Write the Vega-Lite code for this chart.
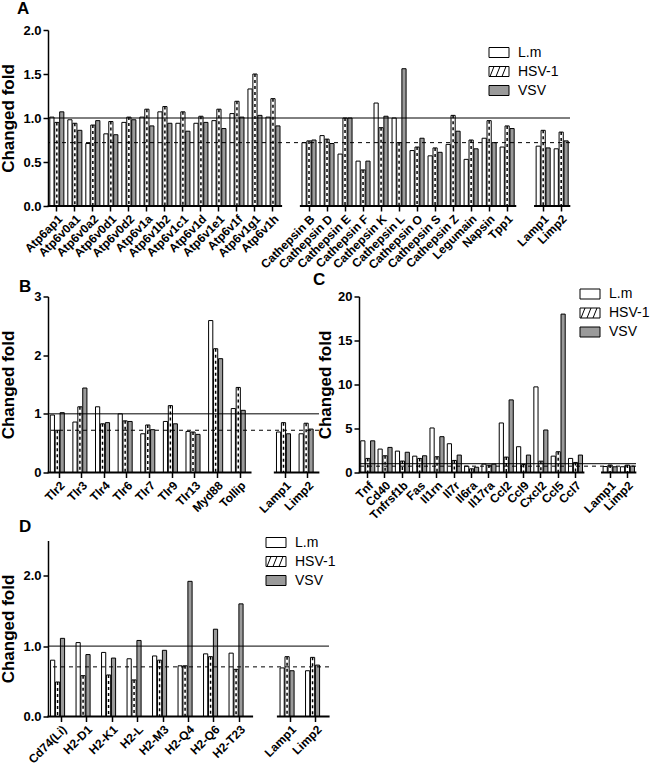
{
"$schema": "https://vega.github.io/schema/vega-lite/v6.json",
"padding": {"left": -1, "top": 0, "right": 0, "bottom": 0},
"datasets": {
"A": [
{"gene":"Atp6ap1","series":"L.m","value":1.01},{"gene":"Atp6ap1","series":"HSV-1","value":0.95},{"gene":"Atp6ap1","series":"VSV","value":1.07},
{"gene":"Atp6v0a1","series":"L.m","value":0.98},{"gene":"Atp6v0a1","series":"HSV-1","value":0.94},{"gene":"Atp6v0a1","series":"VSV","value":0.86},
{"gene":"Atp6v0a2","series":"L.m","value":0.71},{"gene":"Atp6v0a2","series":"HSV-1","value":0.92},{"gene":"Atp6v0a2","series":"VSV","value":0.97},
{"gene":"Atp6v0d1","series":"L.m","value":0.82},{"gene":"Atp6v0d1","series":"HSV-1","value":0.96},{"gene":"Atp6v0d1","series":"VSV","value":0.81},
{"gene":"Atp6v0d2","series":"L.m","value":0.95},{"gene":"Atp6v0d2","series":"HSV-1","value":1.01},{"gene":"Atp6v0d2","series":"VSV","value":0.98},
{"gene":"Atp6v1a","series":"L.m","value":1.01},{"gene":"Atp6v1a","series":"HSV-1","value":1.10},{"gene":"Atp6v1a","series":"VSV","value":0.91},
{"gene":"Atp6v1b2","series":"L.m","value":1.07},{"gene":"Atp6v1b2","series":"HSV-1","value":1.13},{"gene":"Atp6v1b2","series":"VSV","value":0.94},
{"gene":"Atp6v1c1","series":"L.m","value":0.94},{"gene":"Atp6v1c1","series":"HSV-1","value":1.07},{"gene":"Atp6v1c1","series":"VSV","value":0.85},
{"gene":"Atp6v1d","series":"L.m","value":0.94},{"gene":"Atp6v1d","series":"HSV-1","value":1.02},{"gene":"Atp6v1d","series":"VSV","value":0.95},
{"gene":"Atp6v1e1","series":"L.m","value":0.97},{"gene":"Atp6v1e1","series":"HSV-1","value":1.10},{"gene":"Atp6v1e1","series":"VSV","value":0.88},
{"gene":"Atp6v1f","series":"L.m","value":1.05},{"gene":"Atp6v1f","series":"HSV-1","value":1.19},{"gene":"Atp6v1f","series":"VSV","value":1.01},
{"gene":"Atp6v1g1","series":"L.m","value":1.33},{"gene":"Atp6v1g1","series":"HSV-1","value":1.50},{"gene":"Atp6v1g1","series":"VSV","value":1.03},
{"gene":"Atp6v1h","series":"L.m","value":1.01},{"gene":"Atp6v1h","series":"HSV-1","value":1.22},{"gene":"Atp6v1h","series":"VSV","value":0.91},
{"gene":"Cathepsin B","series":"L.m","value":0.72},{"gene":"Cathepsin B","series":"HSV-1","value":0.74},{"gene":"Cathepsin B","series":"VSV","value":0.75},
{"gene":"Cathepsin D","series":"L.m","value":0.80},{"gene":"Cathepsin D","series":"HSV-1","value":0.76},{"gene":"Cathepsin D","series":"VSV","value":0.71},
{"gene":"Cathepsin E","series":"L.m","value":0.59},{"gene":"Cathepsin E","series":"HSV-1","value":1.00},{"gene":"Cathepsin E","series":"VSV","value":1.00},
{"gene":"Cathepsin F","series":"L.m","value":0.51},{"gene":"Cathepsin F","series":"HSV-1","value":0.41},{"gene":"Cathepsin F","series":"VSV","value":0.51},
{"gene":"Cathepsin K","series":"L.m","value":1.17},{"gene":"Cathepsin K","series":"HSV-1","value":0.89},{"gene":"Cathepsin K","series":"VSV","value":1.02},
{"gene":"Cathepsin L","series":"L.m","value":1.00},{"gene":"Cathepsin L","series":"HSV-1","value":0.72},{"gene":"Cathepsin L","series":"VSV","value":1.56},
{"gene":"Cathepsin O","series":"L.m","value":0.63},{"gene":"Cathepsin O","series":"HSV-1","value":0.67},{"gene":"Cathepsin O","series":"VSV","value":0.77},
{"gene":"Cathepsin S","series":"L.m","value":0.57},{"gene":"Cathepsin S","series":"HSV-1","value":0.66},{"gene":"Cathepsin S","series":"VSV","value":0.61},
{"gene":"Cathepsin Z","series":"L.m","value":0.70},{"gene":"Cathepsin Z","series":"HSV-1","value":1.03},{"gene":"Cathepsin Z","series":"VSV","value":0.85},
{"gene":"Legumain","series":"L.m","value":0.53},{"gene":"Legumain","series":"HSV-1","value":0.75},{"gene":"Legumain","series":"VSV","value":0.65},
{"gene":"Napsin","series":"L.m","value":0.77},{"gene":"Napsin","series":"HSV-1","value":0.97},{"gene":"Napsin","series":"VSV","value":0.72},
{"gene":"Tpp1","series":"L.m","value":0.67},{"gene":"Tpp1","series":"HSV-1","value":0.91},{"gene":"Tpp1","series":"VSV","value":0.88},
{"gene":"Lamp1","series":"L.m","value":0.68},{"gene":"Lamp1","series":"HSV-1","value":0.86},{"gene":"Lamp1","series":"VSV","value":0.66},
{"gene":"Limp2","series":"L.m","value":0.65},{"gene":"Limp2","series":"HSV-1","value":0.84},{"gene":"Limp2","series":"VSV","value":0.74}
],
"B": [
{"gene":"Tlr2","series":"L.m","value":0.98},{"gene":"Tlr2","series":"HSV-1","value":0.72},{"gene":"Tlr2","series":"VSV","value":1.02},
{"gene":"Tlr3","series":"L.m","value":0.86},{"gene":"Tlr3","series":"HSV-1","value":1.12},{"gene":"Tlr3","series":"VSV","value":1.44},
{"gene":"Tlr4","series":"L.m","value":1.12},{"gene":"Tlr4","series":"HSV-1","value":0.83},{"gene":"Tlr4","series":"VSV","value":0.85},
{"gene":"Tlr6","series":"L.m","value":1.00},{"gene":"Tlr6","series":"HSV-1","value":0.88},{"gene":"Tlr6","series":"VSV","value":0.87},
{"gene":"Tlr7","series":"L.m","value":0.66},{"gene":"Tlr7","series":"HSV-1","value":0.81},{"gene":"Tlr7","series":"VSV","value":0.73},
{"gene":"Tlr9","series":"L.m","value":0.87},{"gene":"Tlr9","series":"HSV-1","value":1.14},{"gene":"Tlr9","series":"VSV","value":0.83},
{"gene":"Tlr13","series":"L.m","value":0.70},{"gene":"Tlr13","series":"HSV-1","value":0.69},{"gene":"Tlr13","series":"VSV","value":0.65},
{"gene":"Myd88","series":"L.m","value":2.59},{"gene":"Myd88","series":"HSV-1","value":2.11},{"gene":"Myd88","series":"VSV","value":1.94},
{"gene":"Tollip","series":"L.m","value":1.09},{"gene":"Tollip","series":"HSV-1","value":1.45},{"gene":"Tollip","series":"VSV","value":1.06},
{"gene":"Lamp1","series":"L.m","value":0.69},{"gene":"Lamp1","series":"HSV-1","value":0.85},{"gene":"Lamp1","series":"VSV","value":0.66},
{"gene":"Limp2","series":"L.m","value":0.66},{"gene":"Limp2","series":"HSV-1","value":0.84},{"gene":"Limp2","series":"VSV","value":0.74}
],
"C": [
{"gene":"Tnf","series":"L.m","value":3.6},{"gene":"Tnf","series":"HSV-1","value":1.6},{"gene":"Tnf","series":"VSV","value":3.6},
{"gene":"Cd40","series":"L.m","value":2.66},{"gene":"Cd40","series":"HSV-1","value":1.9},{"gene":"Cd40","series":"VSV","value":2.85},
{"gene":"Tnfrsf1b","series":"L.m","value":2.43},{"gene":"Tnfrsf1b","series":"HSV-1","value":1.3},{"gene":"Tnfrsf1b","series":"VSV","value":2.3},
{"gene":"Fas","series":"L.m","value":1.86},{"gene":"Fas","series":"HSV-1","value":1.6},{"gene":"Fas","series":"VSV","value":1.9},
{"gene":"Il1rn","series":"L.m","value":5.06},{"gene":"Il1rn","series":"HSV-1","value":1.79},{"gene":"Il1rn","series":"VSV","value":4.07},
{"gene":"Il7r","series":"L.m","value":3.27},{"gene":"Il7r","series":"HSV-1","value":1.37},{"gene":"Il7r","series":"VSV","value":1.98},
{"gene":"Il6ra","series":"L.m","value":0.72},{"gene":"Il6ra","series":"HSV-1","value":0.42},{"gene":"Il6ra","series":"VSV","value":0.6},
{"gene":"Il17ra","series":"L.m","value":0.95},{"gene":"Il17ra","series":"HSV-1","value":0.84},{"gene":"Il17ra","series":"VSV","value":0.95},
{"gene":"Ccl2","series":"L.m","value":5.63},{"gene":"Ccl2","series":"HSV-1","value":1.75},{"gene":"Ccl2","series":"VSV","value":8.25},
{"gene":"Ccl9","series":"L.m","value":2.93},{"gene":"Ccl9","series":"HSV-1","value":0.9},{"gene":"Ccl9","series":"VSV","value":1.98},
{"gene":"Cxcl2","series":"L.m","value":9.73},{"gene":"Cxcl2","series":"HSV-1","value":1.29},{"gene":"Cxcl2","series":"VSV","value":4.83},
{"gene":"Ccl5","series":"L.m","value":1.86},{"gene":"Ccl5","series":"HSV-1","value":2.36},{"gene":"Ccl5","series":"VSV","value":18.0},
{"gene":"Ccl7","series":"L.m","value":1.6},{"gene":"Ccl7","series":"HSV-1","value":1.14},{"gene":"Ccl7","series":"VSV","value":1.98},
{"gene":"Lamp1","series":"L.m","value":0.68},{"gene":"Lamp1","series":"HSV-1","value":0.85},{"gene":"Lamp1","series":"VSV","value":0.65},
{"gene":"Limp2","series":"L.m","value":0.65},{"gene":"Limp2","series":"HSV-1","value":0.84},{"gene":"Limp2","series":"VSV","value":0.73}
],
"D": [
{"gene":"Cd74(Li)","series":"L.m","value":0.80},{"gene":"Cd74(Li)","series":"HSV-1","value":0.49},{"gene":"Cd74(Li)","series":"VSV","value":1.11},
{"gene":"H2-D1","series":"L.m","value":1.05},{"gene":"H2-D1","series":"HSV-1","value":0.58},{"gene":"H2-D1","series":"VSV","value":0.88},
{"gene":"H2-K1","series":"L.m","value":0.91},{"gene":"H2-K1","series":"HSV-1","value":0.59},{"gene":"H2-K1","series":"VSV","value":0.83},
{"gene":"H2-L","series":"L.m","value":0.82},{"gene":"H2-L","series":"HSV-1","value":0.52},{"gene":"H2-L","series":"VSV","value":1.08},
{"gene":"H2-M3","series":"L.m","value":0.86},{"gene":"H2-M3","series":"HSV-1","value":0.80},{"gene":"H2-M3","series":"VSV","value":0.94},
{"gene":"H2-Q4","series":"L.m","value":0.72},{"gene":"H2-Q4","series":"HSV-1","value":0.72},{"gene":"H2-Q4","series":"VSV","value":1.92},
{"gene":"H2-Q6","series":"L.m","value":0.89},{"gene":"H2-Q6","series":"HSV-1","value":0.85},{"gene":"H2-Q6","series":"VSV","value":1.24},
{"gene":"H2-T23","series":"L.m","value":0.90},{"gene":"H2-T23","series":"HSV-1","value":0.67},{"gene":"H2-T23","series":"VSV","value":1.60},
{"gene":"Lamp1","series":"L.m","value":0.69},{"gene":"Lamp1","series":"HSV-1","value":0.85},{"gene":"Lamp1","series":"VSV","value":0.65},
{"gene":"Limp2","series":"L.m","value":0.65},{"gene":"Limp2","series":"HSV-1","value":0.84},{"gene":"Limp2","series":"VSV","value":0.73}
],
"A_base": [{"from":"Atp6ap1","to":"Atp6v1h"},{"from":"Cathepsin B","to":"Tpp1"},{"from":"Lamp1","to":"Limp2"}],
"B_base": [{"from":"Tlr2","to":"Tollip"},{"from":"Lamp1","to":"Limp2"}],
"C_base": [{"from":"Tnf","to":"Ccl7"},{"from":"Lamp1","to":"Limp2"}],
"D_base": [{"from":"Cd74(Li)","to":"H2-T23"},{"from":"Lamp1","to":"Limp2"}]
},
"resolve": {"scale": {"fill": "independent"}},
"spacing": -0.5,
"vconcat": [
{
"title": {"text": "A", "dx": -31, "offset": 6},
"width": 522, "height": 176,
"layer": [
{"data": {"name": "A"}, "mark": {"type": "bar", "stroke": "black", "strokeWidth": 1},
"encoding": {
"x": {"field": "gene", "type": "nominal", "title": null, "scale": {"domain": ["Atp6ap1","Atp6v0a1","Atp6v0a2","Atp6v0d1","Atp6v0d2","Atp6v1a","Atp6v1b2","Atp6v1c1","Atp6v1d","Atp6v1e1","Atp6v1f","Atp6v1g1","Atp6v1h","_g1","Cathepsin B","Cathepsin D","Cathepsin E","Cathepsin F","Cathepsin K","Cathepsin L","Cathepsin O","Cathepsin S","Cathepsin Z","Legumain","Napsin","Tpp1","_g2","Lamp1","Limp2"], "paddingInner": 0.22, "paddingOuter": 0.1},
 "axis": {"values": ["Atp6ap1","Atp6v0a1","Atp6v0a2","Atp6v0d1","Atp6v0d2","Atp6v1a","Atp6v1b2","Atp6v1c1","Atp6v1d","Atp6v1e1","Atp6v1f","Atp6v1g1","Atp6v1h","Cathepsin B","Cathepsin D","Cathepsin E","Cathepsin F","Cathepsin K","Cathepsin L","Cathepsin O","Cathepsin S","Cathepsin Z","Legumain","Napsin","Tpp1","Lamp1","Limp2"]}},
"xOffset": {"field": "series", "type": "nominal", "scale": {"domain": ["L.m","HSV-1","VSV"], "paddingInner": 0.15}},
"y": {"field": "value", "type": "quantitative", "title": "Changed fold", "scale": {"domain": [0, 2]}, "axis": {"values": [0, 0.5, 1, 1.5, 2], "format": ".1f", "titlePadding": 5}},
"fill": {"field": "series", "type": "nominal", "scale": {"domain": ["L.m","HSV-1","VSV"], "range": ["white","white","#9a9a9a"]},
 "legend": {"title": null, "orient": "none", "legendX": 444, "legendY": 15.5, "symbolSize": 100, "labelFont": "Liberation Sans", "labelFontSize": 14, "labelColor": "black", "labelOffset": 12, "rowPadding": 5,
  "encoding": {"symbols": {"shape": {"condition": {"test": "datum.value === 'HSV-1'", "value": "M-2,-1H2V1H-2Z M-1.8,1L-1,-1 M-0.6,1L0.2,-1 M0.6,1L1.4,-1"}, "value": "M-2,-1H2V1H-2Z"}, "stroke": {"value": "black"}, "strokeWidth": {"value": 1}}}}}
}},
{"data": {"name": "A"}, "transform": [{"filter": "datum.series === 'HSV-1'"}], "mark": {"type": "rule", "color": "black", "strokeWidth": 1.5, "strokeDash": [3, 3]},
"encoding": {
"x": {"field": "gene", "type": "nominal", "title": null, "scale": {"domain": ["Atp6ap1","Atp6v0a1","Atp6v0a2","Atp6v0d1","Atp6v0d2","Atp6v1a","Atp6v1b2","Atp6v1c1","Atp6v1d","Atp6v1e1","Atp6v1f","Atp6v1g1","Atp6v1h","_g1","Cathepsin B","Cathepsin D","Cathepsin E","Cathepsin F","Cathepsin K","Cathepsin L","Cathepsin O","Cathepsin S","Cathepsin Z","Legumain","Napsin","Tpp1","_g2","Lamp1","Limp2"], "paddingInner": 0.22, "paddingOuter": 0.1}},
"xOffset": {"field": "series", "type": "nominal", "scale": {"domain": ["L.m","HSV-1","VSV"], "paddingInner": 0.15}},
"y": {"field": "value", "type": "quantitative", "scale": {"domain": [0, 2]}},
"y2": {"datum": 0}
}},
{"data": {"values": [{}]}, "mark": {"type": "rule", "color": "black", "strokeWidth": 1}, "encoding": {"y": {"datum": 1, "type": "quantitative", "scale": {"domain": [0, 2]}}}},
{"data": {"values": [{}]}, "mark": {"type": "rule", "color": "black", "strokeWidth": 1, "strokeDash": [4, 4]}, "encoding": {"y": {"datum": 0.72, "type": "quantitative", "scale": {"domain": [0, 2]}}}},
{"data": {"name": "A_base"}, "mark": {"type": "rule", "color": "black", "strokeWidth": 2},
"encoding": {
"x": {"field": "from", "type": "nominal", "title": null, "bandPosition": -0.15, "scale": {"domain": ["Atp6ap1","Atp6v0a1","Atp6v0a2","Atp6v0d1","Atp6v0d2","Atp6v1a","Atp6v1b2","Atp6v1c1","Atp6v1d","Atp6v1e1","Atp6v1f","Atp6v1g1","Atp6v1h","_g1","Cathepsin B","Cathepsin D","Cathepsin E","Cathepsin F","Cathepsin K","Cathepsin L","Cathepsin O","Cathepsin S","Cathepsin Z","Legumain","Napsin","Tpp1","_g2","Lamp1","Limp2"], "paddingInner": 0.22, "paddingOuter": 0.1}},
"x2": {"field": "to", "bandPosition": 1.15},
"y": {"datum": 0, "type": "quantitative", "scale": {"domain": [0, 2]}}
}}
]
},
{
"resolve": {"scale": {"fill": "independent"}},
"spacing": -4,
"vconcat": [
{
"resolve": {"scale": {"fill": "independent"}},
"bounds": "flush",
"spacing": 40,
"hconcat": [
{
"title": {"text": "B", "dx": -29, "offset": -5},
"width": 271, "height": 176,
"layer": [
{"data": {"name": "B"}, "mark": {"type": "bar", "stroke": "black", "strokeWidth": 1},
"encoding": {
"x": {"field": "gene", "type": "nominal", "title": null, "scale": {"domain": ["Tlr2","Tlr3","Tlr4","Tlr6","Tlr7","Tlr9","Tlr13","Myd88","Tollip","_g1","Lamp1","Limp2"], "paddingInner": 0.22, "paddingOuter": 0.1},
 "axis": {"values": ["Tlr2","Tlr3","Tlr4","Tlr6","Tlr7","Tlr9","Tlr13","Myd88","Tollip","Lamp1","Limp2"]}},
"xOffset": {"field": "series", "type": "nominal", "scale": {"domain": ["L.m","HSV-1","VSV"], "paddingInner": 0.15}},
"y": {"field": "value", "type": "quantitative", "title": "Changed fold", "scale": {"domain": [0, 3]}, "axis": {"values": [0, 1, 2, 3], "format": "d", "titlePadding": 16.6}},
"fill": {"field": "series", "type": "nominal", "scale": {"domain": ["L.m","HSV-1","VSV"], "range": ["white","white","#9a9a9a"]}, "legend": null}
}},
{"data": {"name": "B"}, "transform": [{"filter": "datum.series === 'HSV-1'"}], "mark": {"type": "rule", "color": "black", "strokeWidth": 1.5, "strokeDash": [3, 3]},
"encoding": {
"x": {"field": "gene", "type": "nominal", "title": null, "scale": {"domain": ["Tlr2","Tlr3","Tlr4","Tlr6","Tlr7","Tlr9","Tlr13","Myd88","Tollip","_g1","Lamp1","Limp2"], "paddingInner": 0.22, "paddingOuter": 0.1}},
"xOffset": {"field": "series", "type": "nominal", "scale": {"domain": ["L.m","HSV-1","VSV"], "paddingInner": 0.15}},
"y": {"field": "value", "type": "quantitative", "scale": {"domain": [0, 3]}},
"y2": {"datum": 0}
}},
{"data": {"values": [{}]}, "mark": {"type": "rule", "color": "black", "strokeWidth": 1}, "encoding": {"y": {"datum": 1, "type": "quantitative", "scale": {"domain": [0, 3]}}}},
{"data": {"values": [{}]}, "mark": {"type": "rule", "color": "black", "strokeWidth": 1, "strokeDash": [4, 4]}, "encoding": {"y": {"datum": 0.72, "type": "quantitative", "scale": {"domain": [0, 3]}}}},
{"data": {"name": "B_base"}, "mark": {"type": "rule", "color": "black", "strokeWidth": 2},
"encoding": {
"x": {"field": "from", "type": "nominal", "title": null, "bandPosition": -0.15, "scale": {"domain": ["Tlr2","Tlr3","Tlr4","Tlr6","Tlr7","Tlr9","Tlr13","Myd88","Tollip","_g1","Lamp1","Limp2"], "paddingInner": 0.22, "paddingOuter": 0.1}},
"x2": {"field": "to", "bandPosition": 1.15},
"y": {"datum": 0, "type": "quantitative", "scale": {"domain": [0, 3]}}
}}
]
},
{
"title": {"text": "C", "dx": -46, "offset": -2},
"width": 277, "height": 176,
"layer": [
{"data": {"name": "C"}, "mark": {"type": "bar", "stroke": "black", "strokeWidth": 1},
"encoding": {
"x": {"field": "gene", "type": "nominal", "title": null, "scale": {"domain": ["Tnf","Cd40","Tnfrsf1b","Fas","Il1rn","Il7r","Il6ra","Il17ra","Ccl2","Ccl9","Cxcl2","Ccl5","Ccl7","_g1","Lamp1","Limp2"], "paddingInner": 0.2, "paddingOuter": 0.1},
 "axis": {"values": ["Tnf","Cd40","Tnfrsf1b","Fas","Il1rn","Il7r","Il6ra","Il17ra","Ccl2","Ccl9","Cxcl2","Ccl5","Ccl7","Lamp1","Limp2"]}},
"xOffset": {"field": "series", "type": "nominal", "scale": {"domain": ["L.m","HSV-1","VSV"], "paddingInner": 0.15}},
"y": {"field": "value", "type": "quantitative", "title": "Changed fold", "scale": {"domain": [0, 20]}, "axis": {"values": [0, 5, 10, 15, 20], "format": "d", "titlePadding": 3}},
"fill": {"field": "series", "type": "nominal", "scale": {"domain": ["L.m","HSV-1","VSV"], "range": ["white","white","#9a9a9a"]},
 "legend": {"title": null, "orient": "none", "legendX": 224, "legendY": -9.5, "symbolSize": 100, "labelFont": "Liberation Sans", "labelFontSize": 14, "labelColor": "black", "labelOffset": 12, "rowPadding": 5,
  "encoding": {"symbols": {"shape": {"condition": {"test": "datum.value === 'HSV-1'", "value": "M-2,-1H2V1H-2Z M-1.8,1L-1,-1 M-0.6,1L0.2,-1 M0.6,1L1.4,-1"}, "value": "M-2,-1H2V1H-2Z"}, "stroke": {"value": "black"}, "strokeWidth": {"value": 1}}}}}
}},
{"data": {"name": "C"}, "transform": [{"filter": "datum.series === 'HSV-1'"}], "mark": {"type": "rule", "color": "black", "strokeWidth": 1.5, "strokeDash": [3, 3]},
"encoding": {
"x": {"field": "gene", "type": "nominal", "title": null, "scale": {"domain": ["Tnf","Cd40","Tnfrsf1b","Fas","Il1rn","Il7r","Il6ra","Il17ra","Ccl2","Ccl9","Cxcl2","Ccl5","Ccl7","_g1","Lamp1","Limp2"], "paddingInner": 0.2, "paddingOuter": 0.1}},
"xOffset": {"field": "series", "type": "nominal", "scale": {"domain": ["L.m","HSV-1","VSV"], "paddingInner": 0.15}},
"y": {"field": "value", "type": "quantitative", "scale": {"domain": [0, 20]}},
"y2": {"datum": 0}
}},
{"data": {"values": [{}]}, "mark": {"type": "rule", "color": "black", "strokeWidth": 1}, "encoding": {"y": {"datum": 1, "type": "quantitative", "scale": {"domain": [0, 20]}}}},
{"data": {"values": [{}]}, "mark": {"type": "rule", "color": "black", "strokeWidth": 1, "strokeDash": [4, 4]}, "encoding": {"y": {"datum": 0.72, "type": "quantitative", "scale": {"domain": [0, 20]}}}},
{"data": {"name": "C_base"}, "mark": {"type": "rule", "color": "black", "strokeWidth": 2},
"encoding": {
"x": {"field": "from", "type": "nominal", "title": null, "bandPosition": -0.15, "scale": {"domain": ["Tnf","Cd40","Tnfrsf1b","Fas","Il1rn","Il7r","Il6ra","Il17ra","Ccl2","Ccl9","Cxcl2","Ccl5","Ccl7","_g1","Lamp1","Limp2"], "paddingInner": 0.2, "paddingOuter": 0.1}},
"x2": {"field": "to", "bandPosition": 1.15},
"y": {"datum": 0, "type": "quantitative", "scale": {"domain": [0, 20]}}
}}
]
}
]
},
{
"title": {"text": "D", "dx": -29, "offset": 0},
"width": 281, "height": 176,
"layer": [
{"data": {"name": "D"}, "mark": {"type": "bar", "stroke": "black", "strokeWidth": 1},
"encoding": {
"x": {"field": "gene", "type": "nominal", "title": null, "scale": {"domain": ["Cd74(Li)","H2-D1","H2-K1","H2-L","H2-M3","H2-Q4","H2-Q6","H2-T23","_g1","Lamp1","Limp2"], "paddingInner": 0.18, "paddingOuter": 0.1},
 "axis": {"values": ["Cd74(Li)","H2-D1","H2-K1","H2-L","H2-M3","H2-Q4","H2-Q6","H2-T23","Lamp1","Limp2"]}},
"xOffset": {"field": "series", "type": "nominal", "scale": {"domain": ["L.m","HSV-1","VSV"], "paddingInner": 0.15}},
"y": {"field": "value", "type": "quantitative", "title": "Changed fold", "scale": {"domain": [0, 2.5]}, "axis": {"values": [0, 0.5, 1, 1.5, 2, 2.5], "format": ".1f", "titlePadding": 5}},
"fill": {"field": "series", "type": "nominal", "scale": {"domain": ["L.m","HSV-1","VSV"], "range": ["white","white","#9a9a9a"]},
 "legend": {"title": null, "orient": "none", "legendX": 221, "legendY": -5, "symbolSize": 100, "labelFont": "Liberation Sans", "labelFontSize": 14, "labelColor": "black", "labelOffset": 12, "rowPadding": 5,
  "encoding": {"symbols": {"shape": {"condition": {"test": "datum.value === 'HSV-1'", "value": "M-2,-1H2V1H-2Z M-1.8,1L-1,-1 M-0.6,1L0.2,-1 M0.6,1L1.4,-1"}, "value": "M-2,-1H2V1H-2Z"}, "stroke": {"value": "black"}, "strokeWidth": {"value": 1}}}}}
}},
{"data": {"name": "D"}, "transform": [{"filter": "datum.series === 'HSV-1'"}], "mark": {"type": "rule", "color": "black", "strokeWidth": 1.5, "strokeDash": [3, 3]},
"encoding": {
"x": {"field": "gene", "type": "nominal", "title": null, "scale": {"domain": ["Cd74(Li)","H2-D1","H2-K1","H2-L","H2-M3","H2-Q4","H2-Q6","H2-T23","_g1","Lamp1","Limp2"], "paddingInner": 0.18, "paddingOuter": 0.1}},
"xOffset": {"field": "series", "type": "nominal", "scale": {"domain": ["L.m","HSV-1","VSV"], "paddingInner": 0.15}},
"y": {"field": "value", "type": "quantitative", "scale": {"domain": [0, 2.5]}},
"y2": {"datum": 0}
}},
{"data": {"values": [{}]}, "mark": {"type": "rule", "color": "black", "strokeWidth": 1}, "encoding": {"y": {"datum": 1, "type": "quantitative", "scale": {"domain": [0, 2.5]}}}},
{"data": {"values": [{}]}, "mark": {"type": "rule", "color": "black", "strokeWidth": 1, "strokeDash": [4, 4]}, "encoding": {"y": {"datum": 0.705, "type": "quantitative", "scale": {"domain": [0, 2.5]}}}},
{"data": {"name": "D_base"}, "mark": {"type": "rule", "color": "black", "strokeWidth": 2},
"encoding": {
"x": {"field": "from", "type": "nominal", "title": null, "bandPosition": -0.15, "scale": {"domain": ["Cd74(Li)","H2-D1","H2-K1","H2-L","H2-M3","H2-Q4","H2-Q6","H2-T23","_g1","Lamp1","Limp2"], "paddingInner": 0.18, "paddingOuter": 0.1}},
"x2": {"field": "to", "bandPosition": 1.15},
"y": {"datum": 0, "type": "quantitative", "scale": {"domain": [0, 2.5]}}
}}
]
}
]
}
],
"config": {
"view": {"stroke": null},
"font": "Liberation Sans",
"axis": {"domainColor": "black", "domainWidth": 1.5, "tickColor": "black", "tickWidth": 1.5, "tickSize": 5, "labelColor": "black", "titleColor": "black", "labelFont": "Liberation Sans", "titleFont": "Liberation Sans", "labelFontWeight": "bold", "titleFontWeight": "bold", "grid": false},
"axisX": {"labelAngle": -45, "labelAlign": "right", "labelBaseline": "top", "labelFontSize": 12, "domain": false, "labelPadding": 2, "labelOverlap": false},
"axisY": {"labelFontSize": 13, "titleFontSize": 17, "labelPadding": 2},
"title": {"fontSize": 17, "fontWeight": "bold", "font": "Liberation Sans", "anchor": "start", "frame": "group", "color": "black"}
}
}
